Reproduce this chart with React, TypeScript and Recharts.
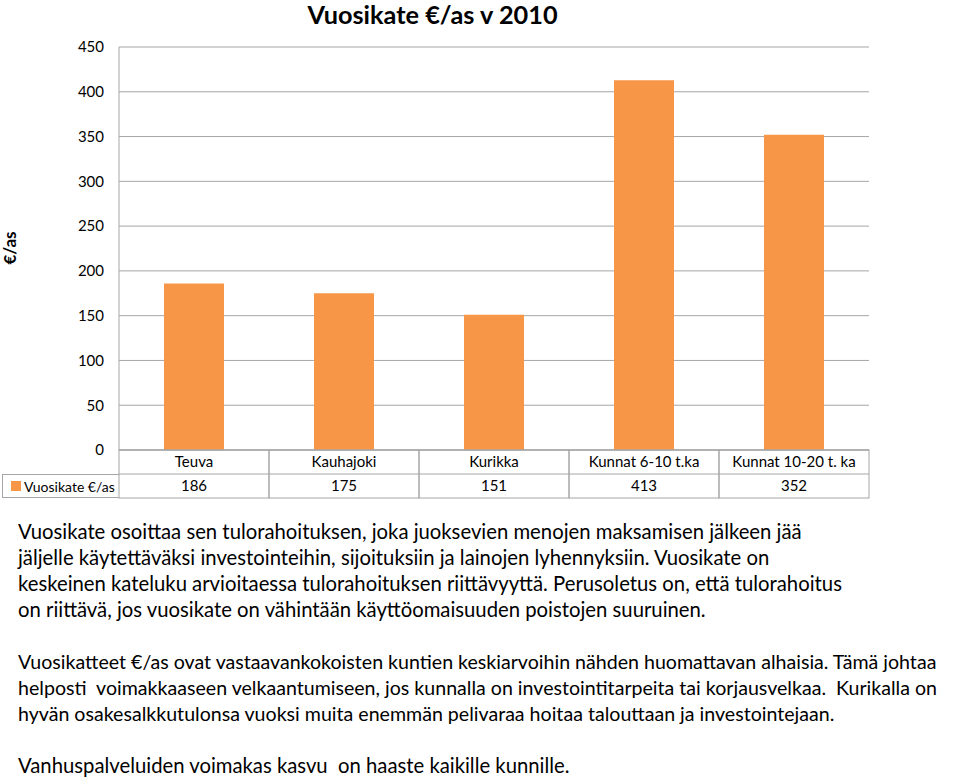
import React from 'react';
import { BarChart, Bar, XAxis, YAxis, CartesianGrid, Label } from 'recharts';

const categories = ['Teuva', 'Kauhajoki', 'Kurikka', 'Kunnat 6-10 t.ka', 'Kunnat 10-20 t. ka'];
const vuosikate = [186, 175, 151, 413, 352];
const yTicks = [0, 50, 100, 150, 200, 250, 300, 350, 400, 450];

const seriesName = 'Vuosikate €/as';
const title = 'Vuosikate €/as v 2010';
const yLabel = '€/as';

const paragraph1 = [
  'Vuosikate osoittaa sen tulorahoituksen, joka juoksevien menojen maksamisen jälkeen jää',
  'jäljelle käytettäväksi investointeihin, sijoituksiin ja lainojen lyhennyksiin. Vuosikate on',
  'keskeinen kateluku arvioitaessa tulorahoituksen riittävyyttä. Perusoletus on, että tulorahoitus',
  'on riittävä, jos vuosikate on vähintään käyttöomaisuuden poistojen suuruinen.',
];
const paragraph2 = [
  'Vuosikatteet €/as ovat vastaavankokoisten kuntien keskiarvoihin nähden huomattavan alhaisia. Tämä johtaa',
  'helposti  voimakkaaseen velkaantumiseen, jos kunnalla on investointitarpeita tai korjausvelkaa.  Kurikalla on',
  'hyvän osakesalkkutulonsa vuoksi muita enemmän pelivaraa hoitaa talouttaan ja investointejaan.',
];
const paragraph3 = ['Vanhuspalveluiden voimakas kasvu  on haaste kaikille kunnille.'];

const data = categories.map((name, i) => ({ name, value: vuosikate[i] }));

const FONT = 'Lato, "Liberation Sans", sans-serif';
const BORDER = '#a6a6a6';
const ORANGE = '#F79646';
const CELL_W = 150;
const ROW_H = 24;

// one column of the data table under the chart: category on top, value below
function TableTick(props: any) {
  const { x, y, payload, index } = props;
  const left = x - CELL_W / 2;
  return (
    <g>
      <rect x={left} y={y} width={CELL_W} height={ROW_H * 2} fill="none" stroke={BORDER} />
      <line x1={left} x2={left + CELL_W} y1={y + ROW_H} y2={y + ROW_H} stroke={BORDER} />
      <text x={x} y={y + 17} textAnchor="middle" fontSize={15} fontFamily={FONT} fill="#000">
        {payload.value}
      </text>
      <text x={x} y={y + ROW_H + 17} textAnchor="middle" fontSize={15} fontFamily={FONT} fill="#000">
        {vuosikate[index]}
      </text>
    </g>
  );
}

function TextBlock({ lines, top, size = 20.3, lineHeight = 26 }: { lines: string[]; top: number; size?: number; lineHeight?: number }) {
  return (
    <div
      style={{
        position: 'absolute',
        left: 18,
        top,
        fontFamily: FONT,
        fontSize: size,
        lineHeight: `${lineHeight}px`,
        color: '#000',
        whiteSpace: 'pre',
      }}
    >
      {lines.map((l, i) => (
        <div key={i}>{l}</div>
      ))}
    </div>
  );
}

export default function App() {
  return (
    <div style={{ position: 'absolute', left: 0, top: 0, width: 960, height: 777, background: '#fff', overflow: 'hidden' }}>
      <div
        style={{
          position: 'absolute',
          left: 0,
          width: 865,
          top: 0,
          textAlign: 'center',
          fontFamily: FONT,
          fontWeight: 700,
          fontSize: 25.3,
          lineHeight: '28px',
        }}
      >
        {title}
      </div>

      <div style={{ position: 'absolute', left: 0, top: 0 }}>
        <BarChart
          width={960}
          height={500}
          data={data}
          margin={{ top: 47, right: 91, left: 0, bottom: 2 }}
          barSize={60}
        >
          <CartesianGrid vertical={false} stroke={BORDER} />
          <XAxis
            dataKey="name"
            height={48}
            axisLine={{ stroke: BORDER }}
            tickLine={false}
            tickSize={0}
            tickMargin={0}
            interval={0}
            tick={<TableTick />}
          />
          <YAxis
            width={119}
            domain={[0, 450]}
            ticks={yTicks}
            axisLine={{ stroke: BORDER }}
            tickLine={false}
            tickSize={0}
            tickMargin={15}
            tick={{ fill: '#000', fontSize: 15, fontFamily: FONT }}
          >
            <Label
              content={() => (
                <text
                  x={16}
                  y={248}
                  transform="rotate(-90 16 248)"
                  textAnchor="middle"
                  fontSize={17}
                  fontWeight={700}
                  fontFamily={FONT}
                  fill="#000"
                >
                  {yLabel}
                </text>
              )}
            />
          </YAxis>
          <Bar dataKey="value" fill={ORANGE} isAnimationActive={false} />
        </BarChart>
      </div>

      {/* legend key cell of the data table */}
      <div
        style={{
          position: 'absolute',
          left: 2,
          top: 474,
          width: 117,
          height: 24,
          boxSizing: 'border-box',
          border: `1px solid ${BORDER}`,
          borderRight: 'none',
          display: 'flex',
          alignItems: 'center',
          fontFamily: FONT,
          fontSize: 14,
          whiteSpace: 'nowrap',
        }}
      >
        <span style={{ display: 'inline-block', flex: 'none', width: 10, height: 10, background: ORANGE, marginLeft: 8, marginRight: 3 }} />
        {seriesName}
      </div>

      <TextBlock lines={paragraph1} top={518} />
      <TextBlock lines={paragraph2} top={649} size={19.6} />
      <TextBlock lines={paragraph3} top={754} lineHeight={22} />
    </div>
  );
}
